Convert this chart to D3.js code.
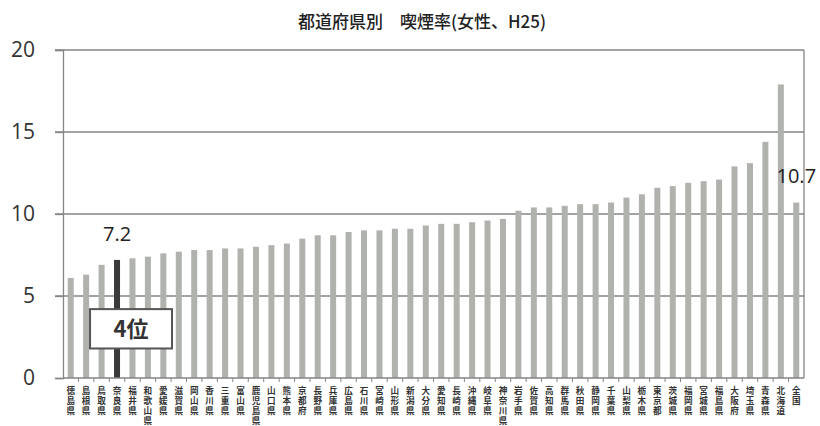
<!DOCTYPE html>
<html><head><meta charset="utf-8">
<script src="https://cdn.jsdelivr.net/npm/d3@7"></script>
<style>body{margin:0;background:#fff}svg{display:block}</style>
</head><body>
<svg id="c" width="820" height="426"></svg>
<script>
const title = "都道府県別　喫煙率(女性、H25)";
const prefectures = ["徳島県","島根県","鳥取県","奈良県","福井県","和歌山県","愛媛県","滋賀県","岡山県","香川県","三重県","富山県","鹿児島県","山口県","熊本県","京都府","長野県","兵庫県","広島県","石川県","宮崎県","山形県","新潟県","大分県","愛知県","長崎県","沖縄県","岐阜県","神奈川県","岩手県","佐賀県","高知県","群馬県","秋田県","静岡県","千葉県","山梨県","栃木県","東京都","茨城県","福岡県","宮城県","福島県","大阪府","埼玉県","青森県","北海道","全国"];
const rates = [6.1,6.3,6.9,7.2,7.3,7.4,7.6,7.7,7.8,7.8,7.9,7.9,8.0,8.1,8.2,8.5,8.7,8.7,8.9,9.0,9.0,9.1,9.1,9.3,9.4,9.4,9.5,9.6,9.7,10.2,10.4,10.4,10.5,10.6,10.6,10.7,11.0,11.2,11.6,11.7,11.9,12.0,12.1,12.9,13.1,14.4,17.9,10.7];
const yTicks = [0,5,10,15,20];
const highlight = "奈良県";
const rankText = "4位";
const nationalLabel = "全国";

const svg = d3.select("#c");
const x = d3.scaleBand().domain(prefectures).range([63, 804]).padding(0);
const y = d3.scaleLinear().domain([0, 20]).range([378, 50]);
const barW = 6;
const cx = d => x(d) + x.bandwidth() / 2;

// title
svg.append("text").attr("x", 422).attr("y", 28).attr("text-anchor", "middle")
  .attr("font-family", "'Noto Sans CJK JP'").attr("font-size", 17).attr("font-weight", 500)
  .attr("fill", "#222").text(title);

// grid lines
svg.append("g").selectAll("line").data(yTicks.filter(t => t > 0)).join("line")
  .attr("x1", 55).attr("x2", 804).attr("y1", d => y(d)).attr("y2", d => y(d))
  .attr("stroke", "#858585").attr("stroke-width", 1.3);

// y axis
const ya = svg.append("g").attr("transform", "translate(63,0)")
  .call(d3.axisLeft(y).tickValues(yTicks).tickSize(8).tickPadding(20));
ya.select(".domain").attr("stroke", "#858585").attr("stroke-width", 1.3);
ya.selectAll(".tick line").attr("stroke", "#858585").attr("stroke-width", 1.3);
ya.selectAll("text").attr("font-family", "'Open Sans'").attr("font-size", 21).attr("fill", "#333");

// right border
svg.append("line").attr("x1", 804).attr("x2", 804).attr("y1", y(20)).attr("y2", y(0))
  .attr("stroke", "#858585").attr("stroke-width", 1.3);

// bars
svg.append("g").selectAll("rect").data(prefectures).join("rect")
  .attr("x", d => cx(d) - barW / 2).attr("width", barW)
  .attr("y", (d, i) => y(rates[i])).attr("height", (d, i) => y(0) - y(rates[i]))
  .attr("fill", d => d === highlight ? "#3a3a3a" : "#b0b2ae");

// x axis baseline and category ticks
svg.append("line").attr("x1", 63).attr("x2", 804).attr("y1", y(0)).attr("y2", y(0))
  .attr("stroke", "#858585").attr("stroke-width", 1.3);
svg.append("g").selectAll("line").data(prefectures.slice(1)).join("line")
  .attr("x1", d => x(d)).attr("x2", d => x(d)).attr("y1", y(0)).attr("y2", y(0) + 4)
  .attr("stroke", "#858585");

// vertical category labels (stacked characters)
const lg = svg.append("g").attr("font-family", "'Noto Sans CJK JP'").attr("font-size", 8.6)
  .attr("font-weight", 700).attr("fill", "#333").attr("text-anchor", "middle");
prefectures.forEach(p => {
  Array.from(p).forEach((ch, j) => {
    lg.append("text").attr("x", cx(p)).attr("y", 393.5 + j * 10).text(ch);
  });
});

// value labels
const hiIdx = prefectures.indexOf(highlight);
svg.append("text").attr("x", cx(highlight)).attr("y", y(rates[hiIdx]) - 19)
  .attr("text-anchor", "middle").attr("font-family", "'Open Sans'").attr("font-size", 20)
  .attr("fill", "#222").text(rates[hiIdx].toFixed(1));
const nIdx = prefectures.indexOf(nationalLabel);
svg.append("text").attr("x", cx(nationalLabel)).attr("y", y(rates[nIdx]) - 20)
  .attr("text-anchor", "middle").attr("font-family", "'Open Sans'").attr("font-size", 20)
  .attr("fill", "#222").text(rates[nIdx].toFixed(1));

// rank box
const bx = cx(highlight) - 27;
svg.append("rect").attr("x", bx).attr("y", y(4.2)).attr("width", 82).attr("height", y(1.8) - y(4.2))
  .attr("fill", "#fff").attr("stroke", "#555").attr("stroke-width", 2);
svg.append("text").attr("x", bx + 41).attr("y", (y(4.2) + y(1.8)) / 2 + 8)
  .attr("text-anchor", "middle").attr("font-family", "'Noto Sans CJK JP'").attr("font-size", 22)
  .attr("font-weight", 700).attr("fill", "#333").text(rankText);
</script>
</body></html>
